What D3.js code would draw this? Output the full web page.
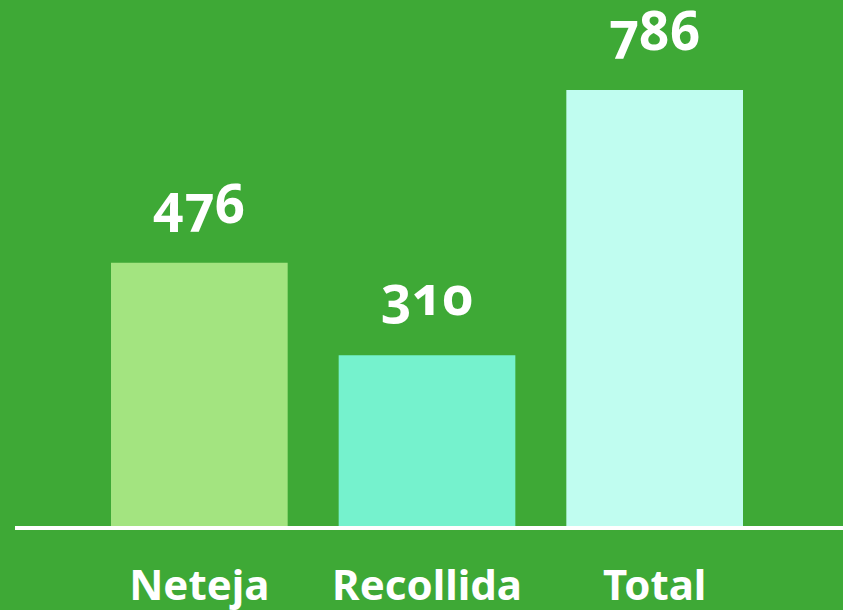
<!DOCTYPE html>
<html>
<head>
<meta charset="utf-8">
<script src="https://cdn.jsdelivr.net/npm/d3@7"></script>
<style>
  html, body { margin: 0; padding: 0; background: #3ea936; }
  svg text { font-family: "Noto Sans", "Open Sans", sans-serif; font-weight: 700; fill: #fff;
             font-variant-numeric: oldstyle-nums; font-feature-settings: "onum" 1; }
</style>
</head>
<body>
<div id="chart"></div>
<script>
// categories + values
const categories = ["Neteja", "Recollida", "Total"];
const values = [476, 310, 786];
const barColors = ["#a3e480", "#75f2cd", "#c0fdf0"];

const W = 843, H = 610;
const baseY = 528;

const svg = d3.select("#chart").append("svg")
  .attr("width", W)
  .attr("height", H);

svg.append("rect").attr("width", W).attr("height", H).attr("fill", "#3ea936");

const x = d3.scaleBand()
  .domain(categories)
  .range([85.5, 768.5])
  .paddingInner(0.224)
  .paddingOuter(0.112);

const y = d3.scaleLinear()
  .domain([0, 786])
  .range([baseY, 90]);

// bars
svg.selectAll(".bar")
  .data(values)
  .enter().append("rect")
  .attr("class", "bar")
  .attr("x", (d, i) => x(categories[i]))
  .attr("width", x.bandwidth())
  .attr("y", d => y(d))
  .attr("height", d => baseY - y(d))
  .attr("fill", (d, i) => barColors[i]);

// value labels
svg.selectAll(".val")
  .data(values)
  .enter().append("text")
  .attr("class", "val")
  .attr("x", (d, i) => x(categories[i]) + x.bandwidth() / 2)
  .attr("y", d => y(d) - 40)
  .attr("text-anchor", "middle")
  .style("font-size", "53px")
  .text(d => d);

// baseline
svg.append("line")
  .attr("x1", 15).attr("x2", W)
  .attr("y1", baseY).attr("y2", baseY)
  .attr("stroke", "#fff")
  .attr("stroke-width", 4);

// category labels
svg.selectAll(".cat")
  .data(categories)
  .enter().append("text")
  .attr("class", "cat")
  .attr("x", d => x(d) + x.bandwidth() / 2)
  .attr("y", 600)
  .attr("text-anchor", "middle")
  .style("font-size", "42px")
  .text(d => d);
</script>
</body>
</html>
